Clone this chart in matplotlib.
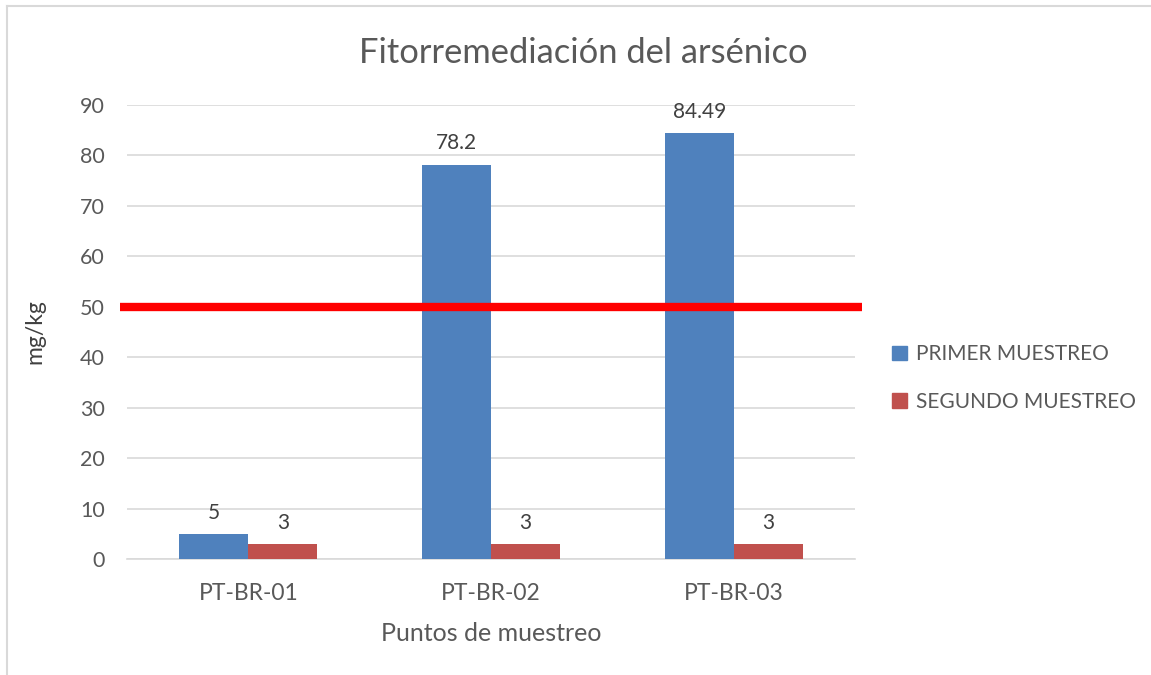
import matplotlib.pyplot as plt
from matplotlib.patches import Patch
from matplotlib.lines import Line2D
import numpy as np

plt.rcParams['font.family'] = ['Lato', 'DejaVu Sans']

puntos = ['PT-BR-01', 'PT-BR-02', 'PT-BR-03']
primer = [5, 78.2, 84.49]
segundo = [3, 3, 3]
limite = 50
etiquetas_primer = ['5', '78.2', '84.49']
etiquetas_segundo = ['3', '3', '3']

azul = '#4f81bd'
rojo = '#c0504d'
gris = '#595959'

fig = plt.figure(figsize=(11.51, 6.75), dpi=100)
ax = fig.add_axes([0.1103, 0.1719, 0.6325, 0.6725])

x = np.arange(len(puntos))
w = 0.284
b1 = ax.bar(x - w/2, primer, w, color=azul, zorder=3)
b2 = ax.bar(x + w/2, segundo, w, color=rojo, zorder=3)

for rect, t in zip(b1, etiquetas_primer):
    ax.annotate(t, (rect.get_x() + rect.get_width()/2, rect.get_height()),
                xytext=(0, 8), textcoords='offset points', ha='center', va='bottom',
                fontsize=15, color='#404040')
for rect, t in zip(b2, etiquetas_segundo):
    ax.annotate(t, (rect.get_x() + rect.get_width()/2, rect.get_height()),
                xytext=(0, 8), textcoords='offset points', ha='center', va='bottom',
                fontsize=15, color='#404040')

# limite permisible
ax.plot([-0.53, 2.53], [limite, limite], color='#ff0000', lw=6, zorder=4,
        clip_on=False, solid_capstyle='butt')

ax.set_xlim(-0.5, 2.5)
ax.set_ylim(0, 90)
ax.set_yticks(range(0, 91, 10))
ax.set_xticks(x)
ax.set_xticklabels(puntos)
ax.grid(axis='y', color='#d9d9d9', lw=1.2, zorder=0)
for s in ['top', 'right', 'left']:
    ax.spines[s].set_visible(False)
ax.spines['bottom'].set_color('#d9d9d9')
ax.spines['bottom'].set_linewidth(1.2)
ax.tick_params(axis='y', length=0, pad=16, labelsize=15.5, labelcolor=gris)
ax.tick_params(axis='x', length=0, pad=17, labelsize=16.5, labelcolor=gris)

ax.set_ylabel('mg/kg', fontsize=16.5, color='#404040', labelpad=25)
ax.set_xlabel('Puntos de muestreo', fontsize=18, color=gris, labelpad=13)
fig.text(0.507, 0.922, 'Fitorremediación del arsénico', ha='center', va='center',
         fontsize=24.8, color=gris)

handles = [Patch(color=azul), Patch(color=rojo)]
fig.legend(handles, ['PRIMER MUESTREO', 'SEGUNDO MUESTREO'], loc='center left',
           bbox_to_anchor=(0.759, 0.44), frameon=False, fontsize=15,
           labelcolor=gris, handlelength=0.7, handleheight=0.7,
           handletextpad=0.45, labelspacing=1.3)

# marco del grafico
fig.add_artist(Line2D([0.0065, 0.0065], [0, 0.991], color='#d9d9d9', lw=1.5))
fig.add_artist(Line2D([0.0065, 1], [0.991, 0.991], color='#d9d9d9', lw=1.5))

fig.savefig('out.png', dpi=100)
